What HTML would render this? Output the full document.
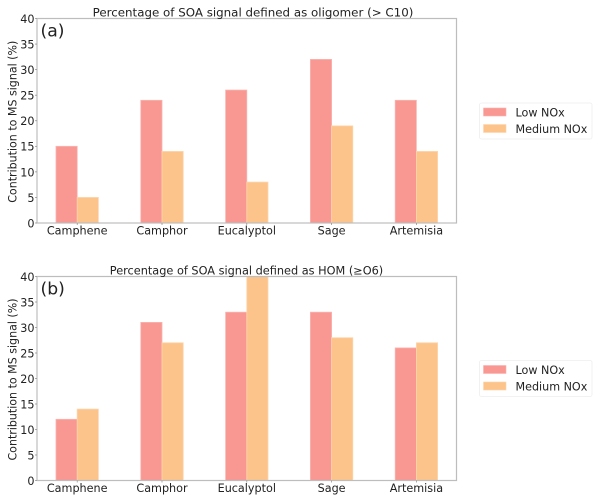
<!DOCTYPE html>
<html>
<head>
<meta charset="utf-8">
<style>
html,body{margin:0;padding:0;background:#fff;width:600px;height:502px;overflow:hidden}
svg{display:block;filter:blur(0.35px)}
text{font-family:"DejaVu Sans","Liberation Sans",sans-serif;fill:#222}
</style>
</head>
<body>
<svg id="figure" width="600" height="502" viewBox="0 0 600 502" xmlns="http://www.w3.org/2000/svg"></svg>
<script>
const categories = ['Camphene', 'Camphor', 'Eucalyptol', 'Sage', 'Artemisia'];
const seriesNames = ['Low NOx', 'Medium NOx'];
const yTicks = [0, 5, 10, 15, 20, 25, 30, 35, 40];
const oligomerLow = [15, 24, 26, 32, 24];
const oligomerMedium = [5, 14, 8, 19, 14];
const homLow = [12, 31, 33, 33, 26];
const homMedium = [14, 27, 40, 28, 27];

const svg = document.getElementById('figure');
const NS = 'http://www.w3.org/2000/svg';
const LEFT = 37, RIGHT = 456.5, FIRST = 77.2, STEP = 84.8, BAR = 21.2, YMAX = 40;
const COLORS = ['#f99792', '#fcc48a'];
const EDGE = ['#fbb4b0', '#fdd6ad'];

function make(tag, attrs, parent, text) {
  const el = document.createElementNS(NS, tag);
  for (const k in attrs) el.setAttribute(k, attrs[k]);
  if (text !== undefined) el.textContent = text;
  (parent || svg).appendChild(el);
  return el;
}

function drawPanel(cfg) {
  const xBand = i => FIRST + i * STEP;
  const yScale = v => cfg.bottom - (v / YMAX) * (cfg.bottom - cfg.top);

  const g = make('g', {});
  
  

  [cfg.low, cfg.medium].forEach((values, s) => {
    values.forEach((v, i) => {
      const x = xBand(i) + (s === 0 ? -BAR : 0);
      const bar = make('rect', {
        x: x, y: yScale(v), width: BAR, height: cfg.bottom - yScale(v),
        fill: COLORS[s], stroke: EDGE[s], 'stroke-width': 0.8
      }, g);
      
      
    });
  });

  const frame = make('rect', {
    x: LEFT, y: cfg.top, width: RIGHT - LEFT, height: cfg.bottom - cfg.top,
    fill: 'none', stroke: '#bdbdbd', 'stroke-width': 1.2
  }, g);
  
  

  yTicks.forEach(t => {
    const mark = make('line', {
      x1: LEFT - 2, x2: LEFT, y1: yScale(t), y2: yScale(t), stroke: '#8a8a8a', 'stroke-width': 0.7
    }, g);
    
    
    const label = make('text', {
      x: 34.5, y: yScale(t) + 4.4, 'text-anchor': 'end', 'font-size': 11.2
    }, g, String(t));
    
    
  });

  categories.forEach((c, i) => {
    const mark = make('line', {
      x1: xBand(i), x2: xBand(i), y1: cfg.bottom, y2: cfg.bottom + 2, stroke: '#8a8a8a', 'stroke-width': 0.7
    }, g);
    
    
    const label = make('text', {
      x: xBand(i), y: cfg.bottom + 11.5, 'text-anchor': 'middle', 'font-size': 11.2
    }, g, c);
    
    
  });

  const ylabel = make('text', {
    x: 0, y: 0, 'text-anchor': 'middle', 'font-size': 11.05,
    transform: 'translate(16.5,' + ((cfg.top + cfg.bottom) / 2 + 1) + ') rotate(-90)'
  }, g, 'Contribution to MS signal (%)');
  
  

  const title = make('text', {
    x: cfg.titleX, y: cfg.top - 2, 'text-anchor': 'middle', 'font-size': cfg.titleSize
  }, g, cfg.title);
  
  

  const tag = make('text', {
    x: 40.5, y: cfg.top + 18, 'font-size': 17.2
  }, g, cfg.tag);
  
  

  const lg = make('g', {}, g);
  
  
  const box = make('rect', {
    x: 479.5, y: cfg.legendY, width: 112.5, height: 36, rx: 2,
    fill: '#fff', stroke: '#eeeeee', 'stroke-width': 0.8
  }, lg);
  
  
  seriesNames.forEach((name, s) => {
    const rowY = cfg.legendY + 5 + s * 16.5;
    const swatch = make('rect', {
      x: 483.5, y: rowY, width: 22.5, height: 8, fill: COLORS[s], stroke: EDGE[s], 'stroke-width': 0.6
    }, lg);
    
    
    const entry = make('text', {
      x: 515.5, y: rowY + 8.5, 'font-size': 11.15
    }, lg, name);
    
    
  });
}

drawPanel({
  key: 'oligomer', top: 18.5, bottom: 223, low: oligomerLow, medium: oligomerMedium,
  title: 'Percentage of SOA signal defined as oligomer (> C10)', titleX: 253, titleSize: 11.85, tag: '(a)', legendY: 103
});
drawPanel({
  key: 'hom', top: 276.5, bottom: 480.5, low: homLow, medium: homMedium,
  title: 'Percentage of SOA signal defined as HOM (≥O6)', titleX: 246.5, titleSize: 11.3, tag: '(b)', legendY: 360.5
});
</script>
</body>
</html>
